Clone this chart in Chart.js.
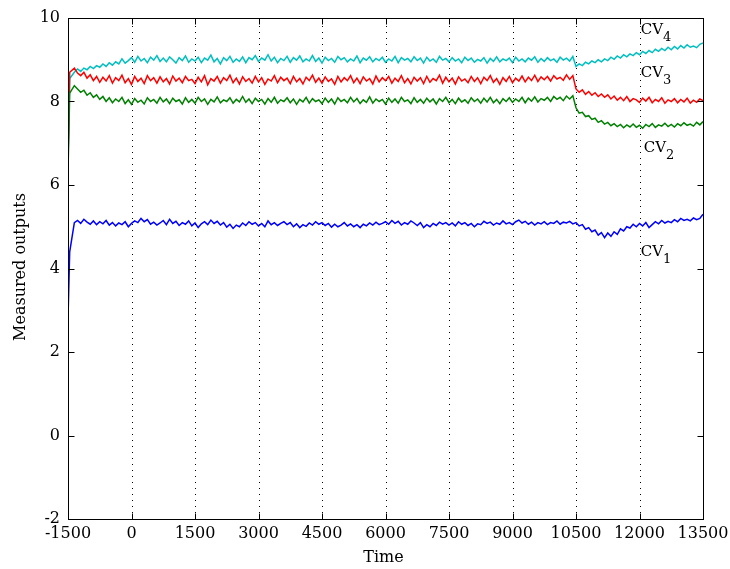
<!DOCTYPE html>
<html>
<head>
<meta charset="utf-8">
<script src="https://cdn.jsdelivr.net/npm/chart.js@4"></script>
<style>
  html, body { margin: 0; padding: 0; background: #fff; }
</style>
</head>
<body>
<canvas id="myChart" width="730" height="569"></canvas>
<script>
// sample times: a fast start-up transient, then every 75 time units
const times = [-1500, -1460, ...Array.from({ length: 199 }, (_, i) => -1350 + 75 * i)];

const cv1 = [
    2.8, 4.4, 5.1, 5.15, 5.08, 5.18, 5.11, 5.06, 5.14, 5.05,
    5.12, 5.07, 5.15, 5.04, 5.1, 5.02, 5.09, 5.05, 5.12, 5.0,
    5.08, 5.14, 5.1, 5.2, 5.12, 5.17, 5.06, 5.11, 5.04, 5.09,
    5.15, 5.05, 5.18, 5.08, 5.13, 5.03, 5.1, 5.06, 5.14, 5.02,
    5.09, 4.98, 5.07, 5.12, 5.05, 5.16, 5.08, 5.13, 5.04, 5.1,
    4.99, 5.06, 4.96, 5.04, 5.0, 5.09, 5.03, 5.12, 5.06, 5.1,
    5.02, 5.08, 5.0, 5.14, 5.05, 5.1, 5.03, 5.08, 5.12, 5.05,
    5.1, 5.0, 5.07, 4.98, 5.05, 5.01, 5.09, 5.04, 5.12, 5.06,
    5.1, 5.03, 5.08, 4.99, 5.06, 5.0, 5.04, 5.1, 5.02, 5.07,
    5.0, 5.05, 4.98, 5.06, 5.02, 5.09, 5.04, 5.11, 5.05, 5.08,
    5.12, 5.06, 5.15, 5.08, 5.13, 5.04, 5.1, 5.06, 5.14, 5.09,
    5.03, 5.1, 4.98, 5.05, 5.0, 5.08, 5.03, 5.11, 5.06, 5.1,
    5.04, 5.09, 5.02, 5.12, 5.06, 5.1, 5.03, 5.08, 5.0, 5.07,
    5.05, 5.13, 5.08, 5.11, 5.04, 5.09, 5.06, 5.14, 5.07, 5.1,
    5.05, 5.12, 5.16, 5.09, 5.13, 5.06, 5.11, 5.04, 5.1, 5.07,
    5.12, 5.05, 5.1, 5.08, 5.14, 5.06, 5.11, 5.09, 5.13, 5.07,
    5.1, 5.02, 5.05, 4.94, 4.98, 4.88, 4.92, 4.8, 4.86, 4.74,
    4.85, 4.77, 4.88, 4.82, 4.95, 4.9, 5.0, 4.97, 5.06, 5.0,
    5.08, 5.02, 5.1, 4.98, 5.05, 5.12, 5.07, 5.15, 5.09, 5.13,
    5.1, 5.17, 5.12, 5.2, 5.15, 5.18, 5.14, 5.21, 5.17, 5.2,
    5.3
];
const cv2 = [
    6.3, 8.2, 8.38, 8.3, 8.22, 8.27, 8.15, 8.21, 8.1, 8.16,
    8.05, 8.12, 8.0, 8.09, 7.97, 8.06, 8.0, 8.1, 7.95, 8.04,
    7.93, 8.07, 7.98, 8.03, 7.94, 8.09, 8.0, 8.05, 7.96, 8.1,
    7.99, 8.06, 7.95, 8.08, 8.0, 8.04, 7.94, 8.09, 7.98, 8.05,
    7.96, 8.1, 8.0, 8.06, 7.93, 8.05, 7.99, 8.11, 7.97, 8.04,
    8.0, 8.09, 7.96, 8.05, 7.99, 8.12, 7.98, 8.06, 7.95, 8.08,
    8.0, 8.05, 7.94, 8.07, 7.98, 8.1, 7.96, 8.04, 8.0, 8.09,
    7.97, 8.06, 7.93, 8.05, 7.99, 8.1, 7.96, 8.07, 8.0, 8.04,
    7.95, 8.08, 7.98, 8.06, 7.94, 8.09, 8.0, 8.05, 7.97, 8.1,
    7.99, 8.07, 7.95, 8.04, 7.98, 8.11, 7.96, 8.06, 8.0, 8.05,
    7.94, 8.08, 7.98, 8.06, 7.96, 8.1, 8.0, 8.04, 7.95, 8.09,
    7.98, 8.05, 7.96, 8.08, 7.99, 8.06, 7.94, 8.07, 8.0, 8.1,
    7.97, 8.05, 7.95, 8.08, 7.99, 8.04, 7.96, 8.09, 8.0, 8.06,
    7.96, 8.08, 7.99, 8.1, 7.97, 8.05, 7.95, 8.07, 8.0, 8.09,
    7.98, 8.06, 8.0, 8.1, 7.97, 8.08, 8.01, 8.11, 7.99, 8.07,
    8.03, 8.1, 8.0, 8.12, 8.05, 8.1, 8.02, 8.13, 8.06, 8.14,
    7.85, 7.72, 7.74, 7.64, 7.66, 7.57, 7.6, 7.5, 7.54, 7.46,
    7.5, 7.42, 7.47, 7.4, 7.45, 7.37, 7.44, 7.39, 7.46, 7.38,
    7.43, 7.36, 7.45, 7.4, 7.47, 7.38, 7.44, 7.41, 7.48, 7.4,
    7.45, 7.39, 7.47, 7.42, 7.49, 7.43, 7.46, 7.41, 7.5, 7.44,
    7.52
];
const cv3 = [
    6.6, 8.7, 8.8, 8.68, 8.62, 8.7, 8.56, 8.64, 8.5, 8.6,
    8.46, 8.58, 8.49, 8.62, 8.44, 8.57, 8.5, 8.63, 8.45, 8.55,
    8.41, 8.6, 8.48, 8.56, 8.43, 8.62, 8.5, 8.57, 8.44, 8.59,
    8.47, 8.55, 8.42, 8.61, 8.49, 8.56, 8.45, 8.6, 8.5, 8.53,
    8.43, 8.58, 8.47, 8.62, 8.4, 8.55, 8.49, 8.6, 8.44, 8.57,
    8.5, 8.63, 8.45, 8.56, 8.42, 8.59, 8.48, 8.55, 8.44, 8.6,
    8.47, 8.57, 8.41, 8.54, 8.49, 8.62, 8.45, 8.58, 8.5, 8.56,
    8.43, 8.6, 8.47, 8.55, 8.42, 8.58, 8.5, 8.63, 8.46, 8.56,
    8.44, 8.59, 8.48, 8.54, 8.41, 8.6, 8.47, 8.57, 8.5, 8.62,
    8.45, 8.56, 8.43, 8.59, 8.49, 8.55, 8.42, 8.61, 8.47, 8.57,
    8.5, 8.6, 8.44, 8.56, 8.48, 8.62, 8.45, 8.55, 8.42, 8.58,
    8.49, 8.57, 8.43, 8.6, 8.46, 8.55, 8.5, 8.63, 8.44, 8.58,
    8.47, 8.56, 8.42, 8.59, 8.49, 8.54, 8.45, 8.6, 8.48, 8.57,
    8.43, 8.58, 8.5, 8.62, 8.46, 8.55, 8.41, 8.57, 8.48, 8.6,
    8.45, 8.56, 8.49, 8.61, 8.47, 8.58, 8.5, 8.63, 8.48, 8.59,
    8.52, 8.6, 8.49, 8.62, 8.54, 8.58, 8.51, 8.64, 8.53, 8.62,
    8.3, 8.22, 8.28, 8.17, 8.24, 8.15, 8.21, 8.12, 8.18, 8.1,
    8.16, 8.06, 8.13, 8.03, 8.1, 8.02, 8.12, 8.0, 8.07, 8.04,
    7.98, 8.08, 8.01, 8.1, 7.97, 8.05, 8.0, 8.09, 7.96, 8.04,
    8.0, 8.07, 7.97, 8.05, 7.99, 8.08, 7.96, 8.03, 7.98, 8.06,
    8.02
];
const cv4 = [
    6.5, 8.55, 8.7, 8.78, 8.72, 8.8, 8.76, 8.84, 8.79, 8.86,
    8.82, 8.9, 8.84, 8.93, 8.87, 8.95, 8.9, 9.02, 8.92, 8.98,
    9.05, 8.94, 9.08, 8.97, 9.03, 8.93, 9.06, 8.99, 9.1, 8.96,
    9.04, 8.95, 9.07, 9.0, 8.92, 9.05, 8.98, 9.09, 8.94, 9.02,
    8.97, 9.06, 8.93, 9.04, 8.99, 9.11, 8.95, 9.03, 8.9, 9.05,
    8.98, 9.08, 8.94, 9.02, 8.96, 9.07, 8.93, 9.05, 9.0, 9.1,
    8.96, 9.04, 8.99, 9.12, 8.97, 9.06, 8.93, 9.03, 8.98, 9.08,
    8.94, 9.05, 8.99, 9.09, 8.95, 9.02, 8.97, 9.1, 8.96, 9.04,
    8.92, 9.06, 8.98, 9.03, 8.94, 9.08, 9.0, 9.05, 8.95, 9.02,
    8.97, 9.09, 8.93, 9.04, 8.99, 9.07, 8.95, 9.03, 8.98, 9.06,
    8.94, 9.02, 8.97, 9.08, 8.93, 9.05, 8.99, 9.03, 8.95, 9.07,
    8.98, 9.04, 8.92, 9.06, 8.97, 9.02, 8.94, 9.08, 8.99, 9.03,
    8.95, 9.05, 8.97, 9.02, 8.93, 9.06, 8.98, 9.04, 8.94, 9.01,
    8.97, 9.05, 8.92, 9.03, 8.96, 9.07, 8.95, 9.02, 8.98, 9.04,
    8.93, 9.06, 8.97, 9.02, 8.95, 9.04, 8.99, 9.07, 8.94, 9.03,
    8.96, 9.05, 8.98, 9.02, 8.94, 9.06, 8.99, 9.04, 8.97, 9.08,
    8.84, 8.9, 8.86, 8.94, 8.9, 8.97, 8.93, 9.0, 8.95, 9.02,
    8.98, 9.06, 9.01, 9.09, 9.04, 9.12, 9.07, 9.14, 9.1, 9.17,
    9.12, 9.2, 9.15, 9.22, 9.17, 9.25, 9.2, 9.27, 9.22, 9.3,
    9.24, 9.32, 9.26, 9.34, 9.28, 9.36, 9.3, 9.33, 9.29, 9.37,
    9.4
];

const xTicks = [-1500, 0, 1500, 3000, 4500, 6000, 7500, 9000, 10500, 12000, 13500];
const yTicks = [-2, 0, 2, 4, 6, 8, 10];

const serif = '"DejaVu Serif", serif';

let points = (vals) => times.map((t, i) => ({ x: t, y: vals[i] }));

// dotted grid, box with inward ticks, CV labels
const frame = {
    id: 'frame',
    beforeDatasetsDraw(chart) {
        const { ctx, chartArea: a, scales: { x } } = chart;
        ctx.save();
        ctx.strokeStyle = '#000';
        ctx.lineWidth = 1;
        ctx.setLineDash([1, 5]);
        xTicks.slice(1, -1).forEach(v => {
            const px = Math.round(x.getPixelForValue(v)) + 0.5;
            ctx.beginPath();
            ctx.moveTo(px, a.bottom);
            ctx.lineTo(px, a.top);
            ctx.stroke();
        });
        ctx.restore();
    },
    afterDatasetsDraw(chart) {
        const { ctx, chartArea: a, scales: { x, y } } = chart;
        ctx.save();
        ctx.strokeStyle = '#000';
        ctx.lineWidth = 1;
        const L = Math.round(a.left) + 0.5, R = Math.round(a.right) + 0.5;
        const T = Math.round(a.top) + 0.5, B = Math.round(a.bottom) + 0.5;
        ctx.strokeRect(L, T, R - L, B - T);
        ctx.beginPath();
        xTicks.forEach(v => {
            const px = Math.round(x.getPixelForValue(v)) + 0.5;
            ctx.moveTo(px, B); ctx.lineTo(px, B - 6);
            ctx.moveTo(px, T); ctx.lineTo(px, T + 6);
        });
        yTicks.forEach(v => {
            const py = Math.round(y.getPixelForValue(v)) + 0.5;
            ctx.moveTo(L, py); ctx.lineTo(L + 6, py);
            ctx.moveTo(R, py); ctx.lineTo(R - 6, py);
        });
        ctx.stroke();

        // series names
        ctx.fillStyle = '#000';
        ctx.textBaseline = 'alphabetic';
        ctx.textAlign = 'left';
        [['4', 12030, 9.62], ['3', 12030, 8.59], ['2', 12100, 6.79], ['1', 12030, 4.30]].forEach(([sub, tx, ty]) => {
            const px = x.getPixelForValue(tx), py = y.getPixelForValue(ty);
            ctx.font = '15px ' + serif;
            ctx.fillText('CV', px, py);
            const w = ctx.measureText('CV').width;
            ctx.font = '13px ' + serif;
            ctx.fillText(sub, px + w, py + 7);
        });

        // axis titles
        ctx.font = '16px ' + serif;
        ctx.textAlign = 'center';
        ctx.textBaseline = 'middle';
        ctx.fillText('Time', (a.left + a.right) / 2 - 2, 558);
        ctx.translate(21, 267);
        ctx.rotate(-Math.PI / 2);
        ctx.fillText('Measured outputs', 0, 0);
        ctx.restore();
    }
};

new Chart(document.getElementById('myChart'), {
    type: 'line',
    data: {
        datasets: [
            { label: 'CV1', data: points(cv1), borderColor: '#0000ff' },
            { label: 'CV2', data: points(cv2), borderColor: '#008000' },
            { label: 'CV3', data: points(cv3), borderColor: '#ff0000' },
            { label: 'CV4', data: points(cv4), borderColor: '#00bfbf' }
        ]
    },
    options: {
        responsive: false,
        animation: false,
        layout: { padding: { left: 0, right: 27, top: 18, bottom: 0 } },
        elements: {
            point: { radius: 0 },
            line: { borderWidth: 1.5, tension: 0 }
        },
        scales: {
            x: {
                type: 'linear',
                min: -1500,
                max: 13500,
                afterBuildTicks: (scale) => { scale.ticks = xTicks.map(v => ({ value: v })); },
                afterFit: (scale) => {
                    scale.height = 50;
                    scale.paddingLeft = 0;
                    scale.paddingRight = 0;
                },
                grid: { display: false, drawTicks: false },
                border: { display: false },
                ticks: {
                    color: '#000',
                    padding: 5,
                    maxRotation: 0,
                    autoSkip: false,
                    font: { family: serif, size: 16 },
                    callback: (v) => String(v)
                }
            },
            y: {
                min: -2,
                max: 10,
                afterBuildTicks: (scale) => { scale.ticks = yTicks.map(v => ({ value: v })); },
                afterFit: (scale) => {
                    scale.width = 68;
                    scale.paddingTop = 0;
                    scale.paddingBottom = 0;
                },
                grid: { display: false, drawTicks: false },
                border: { display: false },
                ticks: {
                    color: '#000',
                    padding: 8,
                    font: { family: serif, size: 16 },
                    callback: (v) => String(v)
                }
            }
        },
        plugins: {
            legend: { display: false },
            tooltip: { enabled: false }
        }
    },
    plugins: [frame]
});
</script>
</body>
</html>
